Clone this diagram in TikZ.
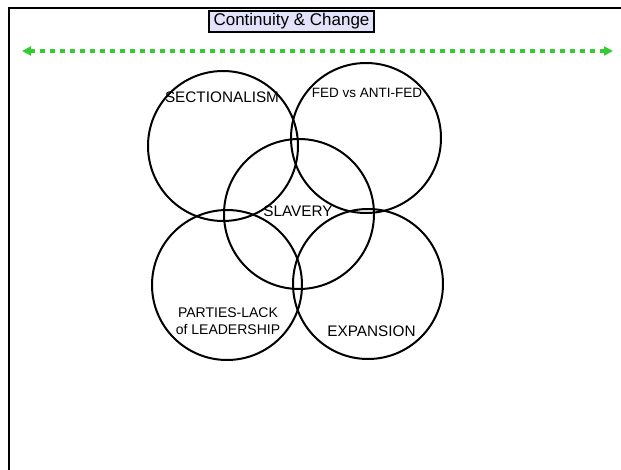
\documentclass[tikz,border=0pt]{standalone}
\usepackage{fontspec}
\setmainfont{Liberation Sans}
\usetikzlibrary{arrows.meta}
\definecolor{dotgreen}{RGB}{51,204,51}
\definecolor{titlefill}{RGB}{226,226,250}

\begin{document}
\begin{tikzpicture}[x=1pt, y=-1pt,
    ring/.style={draw, circle, line width=2pt, minimum size=150pt, inner sep=0pt},
    topic/.style={font=\fontsize{15.3}{17}\selectfont, align=center, inner sep=0pt},
]
    \useasboundingbox (0,0) rectangle (621,470);

    % Frame
    \draw[line width=2.2pt] (9,470) -- (9,8) -- (621,8);

    % Title
    \node[draw, line width=1.5pt, fill=titlefill, minimum width=165pt, minimum height=21pt,
          inner sep=0pt, font=\fontsize{17}{19}\selectfont] (title) at (291.5,21.5) {Continuity \& Change};

    % Time line
    \coordinate (past) at (22,51);
    \coordinate (future) at (613,51);
    \draw[dotgreen, line width=4pt, dash pattern=on 5pt off 5pt,
          {Triangle[length=9pt,width=9pt]}-{Triangle[length=9pt,width=9pt]}] (past) -- (future);

    % Circles
    \node[ring] (sect) at (223,146) {};
    \node[ring] (fed) at (366,138) {};
    \node[ring] (slav) at (299,214) {};
    \node[ring] (part) at (227,285) {};
    \node[ring] (expa) at (368,284) {};

    % Labels
    \node[topic] (sectlbl) at (222,97) {SECTIONALISM};
    \node[topic, font=\fontsize{13.5}{16}\selectfont] (fedlbl) at (367,93) {FED vs ANTI-FED};
    \node[topic] (slavlbl) at (298,211) {SLAVERY};
    \node[topic, font=\fontsize{14}{17}\selectfont] (partlbl) at (228,321.5) {PARTIES-LACK\\of LEADERSHIP};
    \node[topic] (expalbl) at (371.5,331) {EXPANSION};
\end{tikzpicture}
\end{document}
